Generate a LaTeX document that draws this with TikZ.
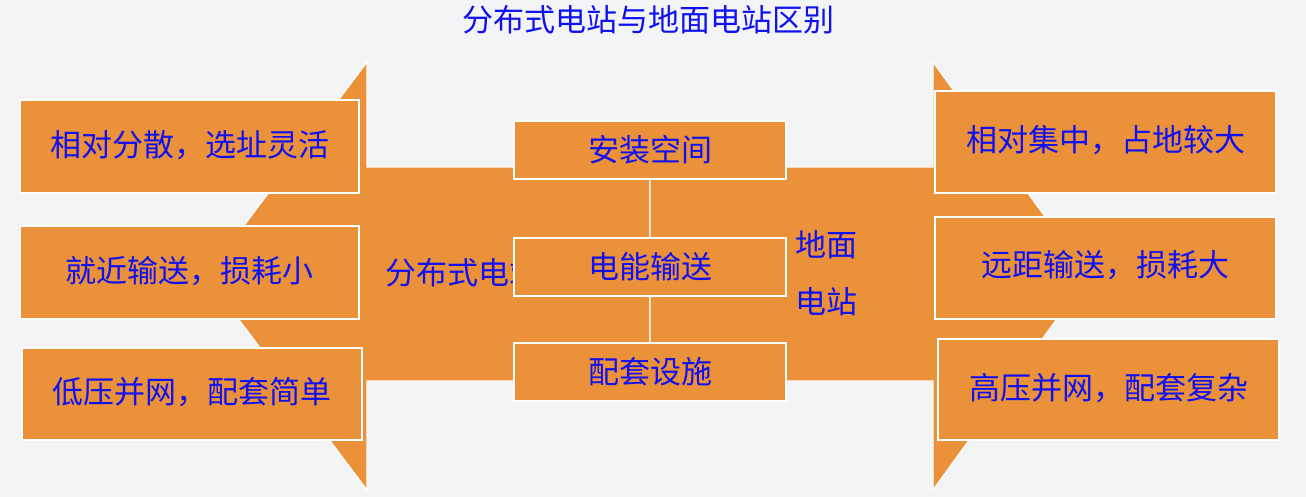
\documentclass[tikz,border=0pt]{standalone}
\usepackage{fontspec}
\newfontfamily\cjk{Noto Sans CJK SC}
\definecolor{org}{HTML}{EB9139}
\definecolor{txt}{HTML}{1010F0}
\definecolor{bg}{HTML}{F3F4F6}
\begin{document}
\begin{tikzpicture}[x=1pt,y=-1pt,
  shp/.style={fill=org,draw=white,line width=1.2pt},
  bx/.style={fill=org,draw=white,line width=1.2pt},
  lbl/.style={text=txt,font=\cjk\fontsize{31}{36}\selectfont,inner sep=0pt}]
\fill[bg] (0,0) rectangle (1306,497);
\useasboundingbox (0,0) rectangle (1306,497);
% left arrow shape
\draw[shp] (650,167) -- (367,167) -- (367,62) -- (206,276) -- (367,490) -- (367,381) -- (650,381) -- cycle;
% right arrow shape
\draw[shp] (650,167) -- (933,167) -- (933,62) -- (1088,276) -- (933,490) -- (933,381) -- (650,381) -- cycle;
\node[lbl,anchor=west] (ls) at (385,273) {分布式电站};
\node[lbl,anchor=west,align=left,font=\cjk\fontsize{31}{57}\selectfont] (rs) at (795,273) {地面\\电站};
% middle boxes
\node[bx,minimum width=272pt,minimum height=58pt,inner sep=0pt] (m1) at (650,150) {};
\node[bx,minimum width=272pt,minimum height=58pt,inner sep=0pt] (m2) at (650,267) {};
\node[bx,minimum width=272pt,minimum height=58pt,inner sep=0pt] (m3) at (650,372) {};
\node[lbl] at (m1) {安装空间};
\node[lbl] at (m2) {电能输送};
\node[lbl] at (m3) {配套设施};
% left boxes
\draw[bx] (20,100) rectangle (359,193); \node[lbl] (l1) at (189.5,145) {相对分散，选址灵活};
\draw[bx] (20,226) rectangle (359,319); \node[lbl] (l2) at (189.5,271) {就近输送，损耗小};
\draw[bx] (22,348) rectangle (362,440); \node[lbl] (l3) at (192,392) {低压并网，配套简单};
% right boxes
\draw[bx] (935,91) rectangle (1276,193); \node[lbl] (r1) at (1105.5,140) {相对集中，占地较大};
\draw[bx] (935,217) rectangle (1276,319); \node[lbl] (r2) at (1105.5,265) {远距输送，损耗大};
\draw[bx] (938,339) rectangle (1279,440); \node[lbl] (r3) at (1108.5,388) {高压并网，配套复杂};
\node[lbl] (title) at (648,20) {分布式电站与地面电站区别};
\end{tikzpicture}
\end{document}
